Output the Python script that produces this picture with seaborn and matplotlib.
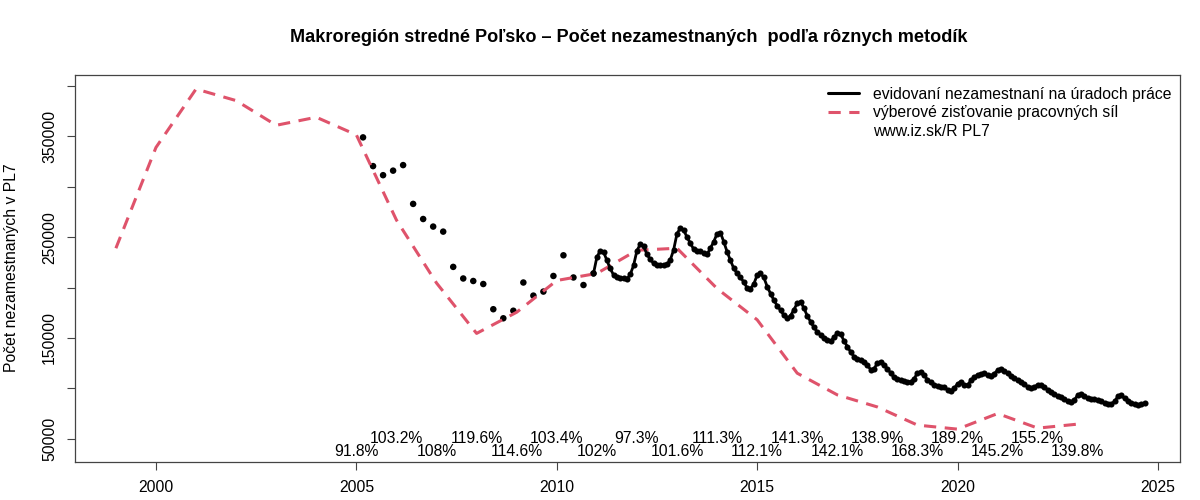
import matplotlib
matplotlib.use("Agg")
import matplotlib.pyplot as plt
from matplotlib.lines import Line2D
import seaborn as sns
import pandas as pd

# ---------------- data ----------------
lfs_years = list(range(1999, 2024))
lfs_values = [239000, 339000, 397000, 385500, 361000, 369000, 351500,
              267000, 204500, 154500, 175500, 207000, 214000, 237000,
              239000, 199000, 168000, 115000, 93500, 81500, 63500,
              59500, 75000, 60500, 64500]

# quarterly registered unemployed (March, June, Sept, Dec) 2005-2010
q_years = [2005] * 4 + [2006] * 4 + [2007] * 4 + [2008] * 4 + [2009] * 4 + [2010] * 4
q_months = [3, 6, 9, 12] * 6
q_values = [349000, 320500, 311500, 316000, 321500, 283000, 268000, 260500,
            255500, 220500, 209000, 206500, 203500, 178500, 169500, 177000,
            205000, 192000, 196000, 211500, 232000, 210000, 202500, 214000]

# monthly registered unemployed 2011-01 .. 2024-09
monthly = {
    2011: [230000, 236500, 235500, 227000, 219000, 212500, 210500, 209500, 209000, 208500, 213000, 222000],
    2012: [236500, 243000, 241000, 233000, 228000, 224000, 222500, 222000, 222000, 223000, 227500, 237500],
    2013: [253500, 259000, 257000, 250000, 244000, 238000, 236500, 236000, 234000, 233000, 239000, 245500],
    2014: [253500, 254500, 245500, 235500, 227000, 219000, 214000, 210000, 205500, 199500, 199000, 203500],
    2015: [212500, 214000, 210000, 201000, 194000, 187500, 182000, 177500, 172500, 169500, 172000, 178000],
    2016: [184500, 186000, 179500, 172000, 166000, 160500, 156000, 153000, 149500, 147500, 147000, 150500],
    2017: [155000, 154000, 147000, 141500, 136000, 131500, 129500, 128000, 126000, 123000, 118500, 119500],
    2018: [125000, 126500, 123000, 119500, 115000, 111000, 109500, 108500, 107000, 106000, 106500, 109500],
    2019: [115500, 116500, 113000, 108500, 106000, 103500, 102500, 101500, 101500, 98500, 97500, 100000],
    2020: [104500, 106500, 103500, 103000, 108000, 111000, 113500, 114500, 115000, 113500, 112500, 114500],
    2021: [118000, 119500, 117500, 115000, 112000, 110000, 108000, 106500, 104000, 101500, 100500, 101500],
    2022: [103500, 103000, 101000, 98500, 96500, 94000, 92500, 91000, 89000, 87000, 86500, 88500],
    2023: [93500, 94000, 92000, 90500, 89500, 89000, 88000, 87000, 85500, 84500, 84500, 87000],
    2024: [92000, 93000, 90000, 87500, 85500, 84500, 83500, 84500, 85000],
}

ratio_years = list(range(2005, 2024))
ratio_labels = ["91.8%", "103.2%", "108%", "119.6%", "114.6%", "103.4%", "102%",
                "97.3%", "101.6%", "111.3%", "112.1%", "141.3%", "142.1%",
                "138.9%", "168.3%", "189.2%", "145.2%", "155.2%", "139.8%"]

title = "Makroregión stredné Poľsko – Počet nezamestnaných  podľa rôznych metodík"
ylabel = "Počet nezamestnaných v PL7"
legend_labels = ["evidovaní nezamestnaní na úradoch práce",
                 "výberové zisťovanie pracovných síl",
                 "www.iz.sk/R PL7"]
xticks = [2000, 2005, 2010, 2015, 2020, 2025]
yticks = [50000, 100000, 150000, 200000, 250000, 300000, 350000, 400000]
ytick_labels = ["50000", "", "150000", "", "250000", "", "350000", ""]

# ---------------- frames ----------------
df_lfs = pd.DataFrame({"t": lfs_years, "v": lfs_values})
df_q = pd.DataFrame({"t": [y + (m - 1) / 12 for y, m in zip(q_years, q_months)],
                     "v": q_values})
mt, mv = [], []
for y, vals in monthly.items():
    for i, v in enumerate(vals):
        mt.append(y + i / 12)
        mv.append(v)
# line starts at last quarterly point (Dec 2010)
df_m = pd.DataFrame({"t": [df_q["t"].iloc[-1]] + mt, "v": [q_values[-1]] + mv})

# ---------------- style ----------------
sns.set_theme(style="white")
plt.rcParams["font.family"] = ["Liberation Sans", "DejaVu Sans"]
plt.rcParams["text.color"] = "black"
plt.rcParams["xtick.color"] = "black"
plt.rcParams["ytick.color"] = "black"
plt.rcParams["axes.labelcolor"] = "black"
FS = 11.3
RED = "#DF536B"

fig = plt.figure(figsize=(12, 5), dpi=100)
ax = fig.add_axes([75 / 1200, 1 - 462 / 500, (1180 - 75) / 1200, (462 - 74.7) / 500])

sns.lineplot(data=df_lfs, x="t", y="v", ax=ax, color=RED, linewidth=2.2,
             estimator=None, sort=False)
ax.lines[-1].set_dashes([4, 2.8])

sns.scatterplot(data=df_q, x="t", y="v", ax=ax, color="black", s=22,
                edgecolor="none", linewidth=0)
sns.lineplot(data=df_m, x="t", y="v", ax=ax, color="black", linewidth=2.0,
             marker="o", markersize=4.4, markeredgewidth=0, estimator=None, sort=False)

for i, (yr, lab) in enumerate(zip(ratio_years, ratio_labels)):
    yy = 37300 if i % 2 == 0 else 50500
    ax.text(yr, yy, lab, ha="center", va="center", fontsize=FS, color="black")

ax.set_xlim(1997.98, 2025.55)
ax.set_ylim(26900, 411200)
ax.set_xticks(xticks)
ax.set_xticklabels([str(x) for x in xticks], fontsize=FS, color="black")
ax.set_yticks(yticks)
ax.set_yticklabels(ytick_labels, fontsize=FS, rotation=90, va="center", color="black")
ax.tick_params(axis="both", direction="out", length=6, width=0.8, color="#444444",
               pad=7, left=True, bottom=True)
for sp in ax.spines.values():
    sp.set_color("#444444")
    sp.set_linewidth(0.9)
ax.set_xlabel("")
ax.set_ylabel("")
fig.text(12 / 1200, 1 - 268 / 500, ylabel, rotation=90, ha="center", va="center",
         fontsize=FS, color="black")
fig.text(629 / 1200, 1 - 38 / 500, title, ha="center", va="center", fontsize=13.1,
         fontweight="bold", color="black")

handles = [Line2D([], [], color="black", lw=2.2),
           Line2D([], [], color=RED, lw=2.2, dashes=[4, 2.8]),
           Line2D([], [], color="none", lw=0)]
leg = ax.legend(handles, legend_labels, loc="upper left",
                bbox_to_anchor=(828 / 1200, 1 - 86.5 / 500),
                bbox_transform=fig.transFigure, frameon=False, fontsize=FS, borderpad=0,
                borderaxespad=0, handlelength=1.95, handletextpad=0.9, labelspacing=0.24)
for t in leg.get_texts():
    t.set_color("black")

fig.savefig("out.png", dpi=100, facecolor="white")
